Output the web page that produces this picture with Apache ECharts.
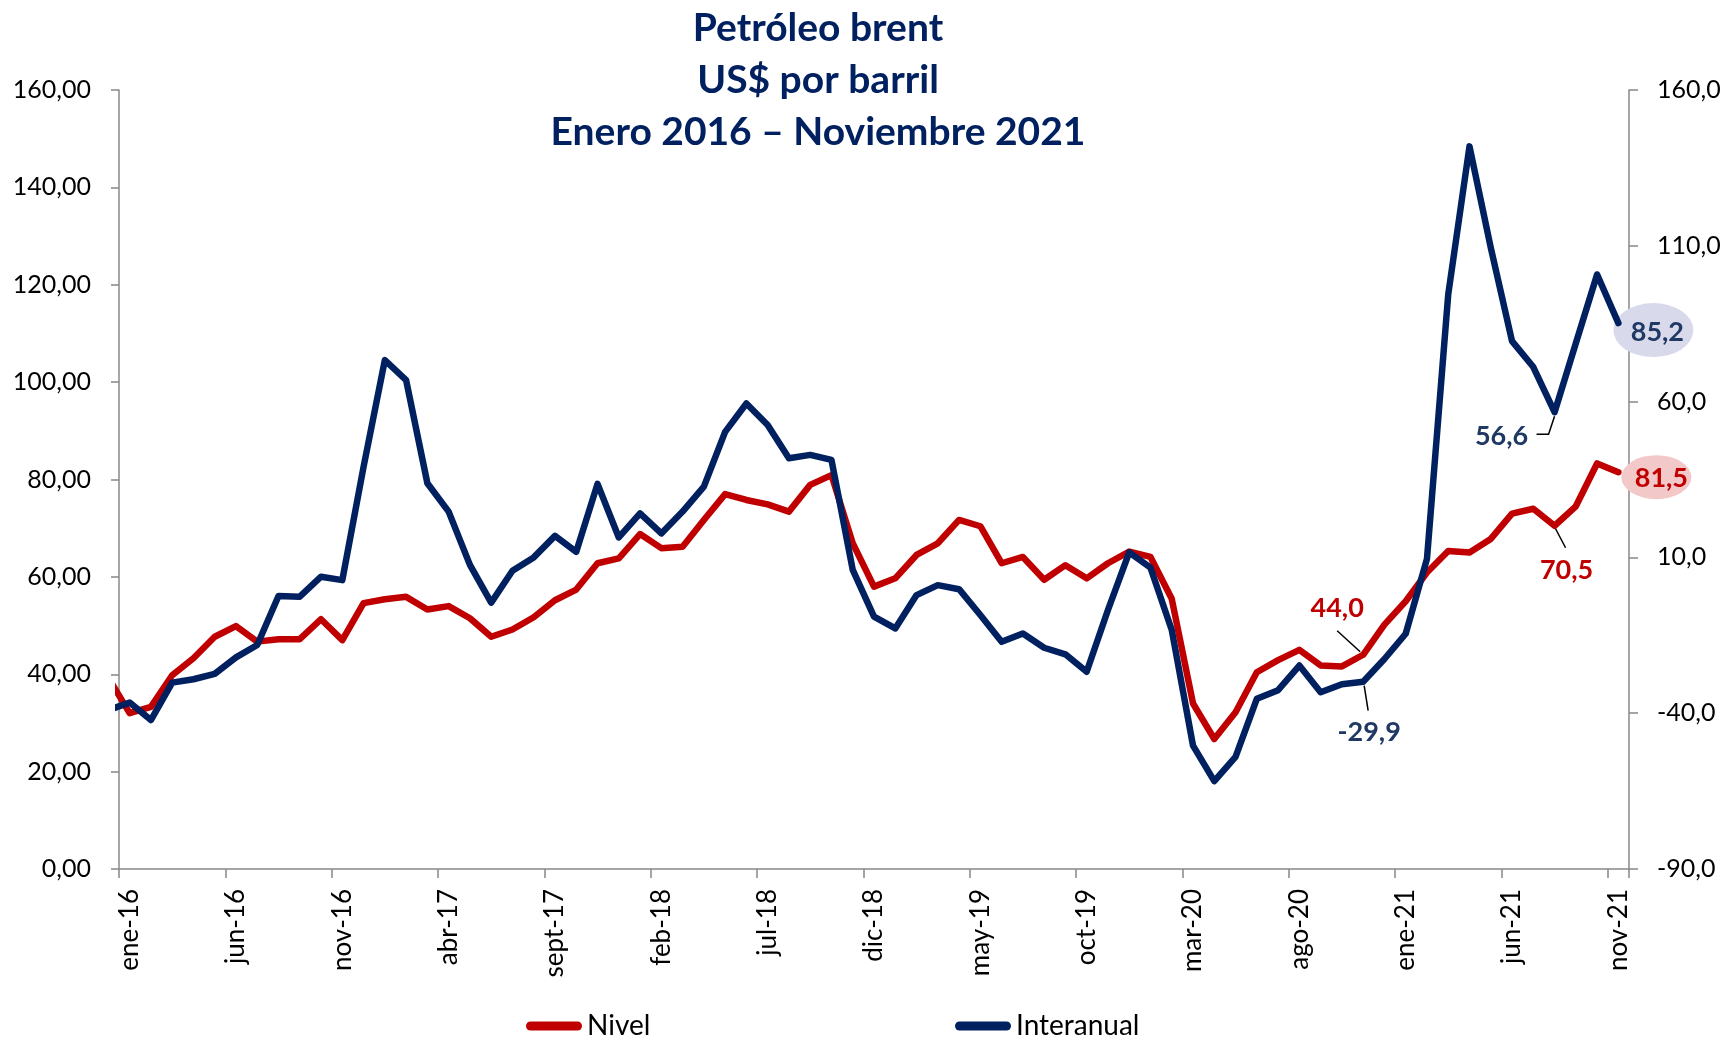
<!DOCTYPE html>
<html>
<head>
<meta charset="utf-8">
<script src="https://cdn.jsdelivr.net/npm/echarts@6.0.0/dist/echarts.min.js"></script>
<style>
html,body{margin:0;padding:0;background:#ffffff;}
#chart{width:1727px;height:1040px;}
</style>
</head>
<body>
<div id="chart"></div>
<script>
// ---- Data ----
// 'dic-15' is a point just before the visible window (clipped at the left axis, as in the original)
const categories = [
  'dic-15',
  'ene-16','feb-16','mar-16','abr-16','may-16','jun-16','jul-16','ago-16','sept-16','oct-16','nov-16','dic-16',
  'ene-17','feb-17','mar-17','abr-17','may-17','jun-17','jul-17','ago-17','sept-17','oct-17','nov-17','dic-17',
  'ene-18','feb-18','mar-18','abr-18','may-18','jun-18','jul-18','ago-18','sept-18','oct-18','nov-18','dic-18',
  'ene-19','feb-19','mar-19','abr-19','may-19','jun-19','jul-19','ago-19','sept-19','oct-19','nov-19','dic-19',
  'ene-20','feb-20','mar-20','abr-20','may-20','jun-20','jul-20','ago-20','sept-20','oct-20','nov-20','dic-20',
  'ene-21','feb-21','mar-21','abr-21','may-21','jun-21','jul-21','ago-21','sept-21','oct-21','nov-21'
];

const nivel = [
  39.3,
  32.0, 33.3, 39.8, 43.3, 47.7, 49.9, 46.7, 47.2, 47.2, 51.3, 47.0, 54.6,
  55.4, 55.9, 53.3, 54.0, 51.5, 47.7, 49.2, 51.7, 55.2, 57.4, 62.8, 63.8,
  68.8, 65.9, 66.2, 71.7, 77.0, 75.8, 74.9, 73.4, 78.9, 80.9, 66.9, 58.0,
  59.7, 64.5, 66.9, 71.7, 70.4, 62.8, 64.1, 59.4, 62.4, 59.7, 62.8, 65.2,
  64.1, 55.5, 34.0, 26.7, 32.2, 40.4, 42.9, 45.0, 41.8, 41.6, 44.0, 50.2,
  55.0, 60.9, 65.3, 65.0, 67.8, 73.0, 74.0, 70.5, 74.5, 83.3, 81.5
];

const interanual = [
  -39.0,
  -36.6, -42.2, -30.2, -29.1, -27.4, -22.1, -18.1, -2.4, -2.6, 3.8, 2.7, 39.1,
  73.3, 66.9, 33.8, 24.7, 7.6, -4.5, 5.7, 10.0, 16.9, 11.8, 33.6, 16.4,
  24.1, 17.7, 24.7, 32.7, 50.3, 59.4, 52.5, 41.8, 42.9, 41.3, 6.0, -9.0,
  -12.8, -2.1, 1.1, -0.2, -8.5, -17.1, -14.4, -19.0, -21.1, -26.7, -6.9, 11.6,
  6.7, -13.3, -50.4, -61.8, -54.0, -35.4, -32.6, -24.7, -33.3, -30.7, -29.9, -22.6,
  -14.5, 9.5, 94.4, 141.9, 109.4, 79.4, 71.1, 56.6, 78.7, 100.8, 85.2
];

const leftTicks = [0, 20, 40, 60, 80, 100, 120, 140, 160];
const rightTicks = [-90, -40, 10, 60, 110, 160];

// annotated points (category names) and last point
const annotatedNivel = ['nov-20', 'ago-21'];
const annotatedInteranual = ['nov-20', 'ago-21'];
const lastCategory = 'nov-21';
const firstShown = 1;      // index of 'ene-16'
const labelEvery = 5;      // a label every 5 months

// ---- Styling ----
const FONT = 'Lato, "Open Sans", "DejaVu Sans", sans-serif';
const RED = '#C00000';
const NAVY = '#002060';
const NAVY_TXT = '#1F3864';
const AXIS = '#888888';

// label offsets and leader-line shapes (pixels, relative to the data point)
const noteStyle = {
  'Nivel|nov-20':      { offset: [-26, -46], color: RED,      leader: [[-26, -24], [-3, -3]] },
  'Nivel|ago-21':      { offset: [12, 45],   color: RED,      leader: [[1, 3], [11, 22]] },
  'Interanual|nov-20': { offset: [6, 51],    color: NAVY_TXT, leader: [[1, 4], [5, 29]] },
  'Interanual|ago-21': { offset: [-53, 24],  color: NAVY_TXT, leader: [[0, 4], [-6, 22], [-18, 22]] }
};

const fmt1 = v => Number(v).toFixed(1).replace('.', ',');

function buildData(name, values, annotated) {
  return values.map((v, i) => {
    const cat = categories[i];
    if (annotated.indexOf(cat) < 0) return v;
    const st = noteStyle[name + '|' + cat];
    return {
      value: v,
      label: {
        show: true,
        position: 'inside',
        offset: st.offset,
        formatter: p => fmt1(p.value),
        color: st.color,
        fontSize: 27,
        fontWeight: 'bold',
        fontFamily: FONT
      }
    };
  });
}

const lastIdx = categories.indexOf(lastCategory);
const PILL = 'path://M4.5,0 L51.5,0 A4.5,4.5 0 0 1 51.5,9 L4.5,9 A4.5,4.5 0 0 1 4.5,0 Z';
const showEvery = (idx) => idx >= firstShown && (idx - firstShown) % labelEvery === 0;

const chart = echarts.init(document.getElementById('chart'), null, { renderer: 'canvas' });

const option = {
  animation: false,
  backgroundColor: '#ffffff',
  textStyle: { fontFamily: FONT },
  title: {
    text: 'Petróleo brent\nUS$ por barril\nEnero 2016 – Noviembre 2021',
    left: 818,
    top: 2,
    padding: 0,
    textAlign: 'center',
    textStyle: {
      fontFamily: FONT,
      fontSize: 39,
      fontWeight: 'bold',
      color: NAVY,
      lineHeight: 52
    }
  },
  legend: [
    {
      data: ['Nivel'],
      left: 526, top: 1011, padding: 0,
      icon: PILL, itemWidth: 56, itemHeight: 9,
      textStyle: { fontSize: 28, color: '#000000', fontFamily: FONT, lineHeight: 30 }
    },
    {
      data: ['Interanual'],
      left: 955, top: 1011, padding: 0,
      icon: PILL, itemWidth: 56, itemHeight: 9,
      textStyle: { fontSize: 28, color: '#000000', fontFamily: FONT, lineHeight: 30 }
    }
  ],
  grid: { left: 119, right: 98, top: 90, bottom: 171, containLabel: false },
  xAxis: {
    type: 'category',
    data: categories,
    min: firstShown,
    boundaryGap: true,
    axisLine: { show: true, onZero: false, lineStyle: { color: AXIS, width: 1.5 } },
    axisTick: { show: true, interval: showEvery, length: 9, alignWithLabel: false, lineStyle: { color: AXIS, width: 1.5 } },
    axisLabel: {
      interval: showEvery, rotate: 90, margin: 20,
      fontSize: 26, color: '#000000', fontFamily: FONT
    },
    splitLine: { show: false }
  },
  yAxis: [
    {
      type: 'value',
      position: 'left',
      min: 0, max: 160, interval: 20,
      axisLine: { show: true, lineStyle: { color: AXIS, width: 1.5 } },
      axisTick: { show: true, length: 8, customValues: leftTicks, lineStyle: { color: AXIS, width: 1.5 } },
      axisLabel: {
        margin: 28, fontSize: 25, color: '#000000', fontFamily: FONT,
        customValues: leftTicks,
        formatter: v => Number(v).toFixed(2).replace('.', ',')
      },
      splitLine: { show: false }
    },
    {
      type: 'value',
      position: 'right',
      min: -90, max: 160, interval: 50,
      axisLine: { show: true, lineStyle: { color: AXIS, width: 1.5 } },
      axisTick: { show: true, length: 9, customValues: rightTicks, lineStyle: { color: AXIS, width: 1.5 } },
      axisLabel: {
        margin: 28, fontSize: 25, color: '#000000', fontFamily: FONT,
        customValues: rightTicks,
        formatter: v => Number(v).toFixed(1).replace('.', ',')
      },
      splitLine: { show: false }
    }
  ],
  series: [
    {
      name: 'Nivel',
      type: 'line',
      yAxisIndex: 0,
      data: buildData('Nivel', nivel, annotatedNivel),
      color: RED,
      showSymbol: true,
      showAllSymbol: true,
      symbol: 'circle',
      symbolSize: 2,
      itemStyle: { color: RED },
      lineStyle: { color: RED, width: 6.5, cap: 'round', join: 'round' },
      clip: true,
      z: 3,
      markPoint: {
        silent: true,
        z: 1,
        symbol: 'circle',
        data: [{
          coord: [lastIdx, nivel[lastIdx]],
          value: nivel[lastIdx],
          symbolSize: [70, 44],
          symbolOffset: [38, 5],
          itemStyle: { color: '#F3C8C8' },
          label: {
            show: true, position: 'inside', offset: [5, 1],
            formatter: p => fmt1(p.value),
            color: RED, fontSize: 27, fontWeight: 'bold', fontFamily: FONT
          }
        }]
      }
    },
    {
      name: 'Interanual',
      type: 'line',
      yAxisIndex: 1,
      data: buildData('Interanual', interanual, annotatedInteranual),
      color: NAVY,
      showSymbol: true,
      showAllSymbol: true,
      symbol: 'circle',
      symbolSize: 2,
      itemStyle: { color: NAVY },
      lineStyle: { color: NAVY, width: 6.5, cap: 'round', join: 'round' },
      clip: true,
      z: 4,
      markPoint: {
        silent: true,
        z: 1,
        symbol: 'circle',
        data: [{
          coord: [lastIdx, interanual[lastIdx]],
          value: interanual[lastIdx],
          symbolSize: [80, 54],
          symbolOffset: [35, 7],
          itemStyle: { color: '#D8DAEC' },
          label: {
            show: true, position: 'inside', offset: [4, 2],
            formatter: p => fmt1(p.value),
            color: NAVY_TXT, fontSize: 27, fontWeight: 'bold', fontFamily: FONT
          }
        }]
      }
    }
  ]
};

chart.setOption(option);

// leader lines for the annotated points, anchored on the library's own data->pixel mapping
const leaderGraphics = [];
[['Nivel', 0, nivel, annotatedNivel], ['Interanual', 1, interanual, annotatedInteranual]].forEach(([name, si, values, cats]) => {
  cats.forEach(cat => {
    const idx = categories.indexOf(cat);
    const p = chart.convertToPixel({ seriesIndex: si }, [idx, values[idx]]);
    const st = noteStyle[name + '|' + cat];
    leaderGraphics.push({
      type: 'polyline',
      silent: true,
      z: 20,
      shape: { points: st.leader.map(d => [p[0] + d[0], p[1] + d[1]]) },
      style: { stroke: '#000000', lineWidth: 1.5, fill: null }
    });
  });
});
chart.setOption({ graphic: leaderGraphics });
</script>
</body>
</html>
